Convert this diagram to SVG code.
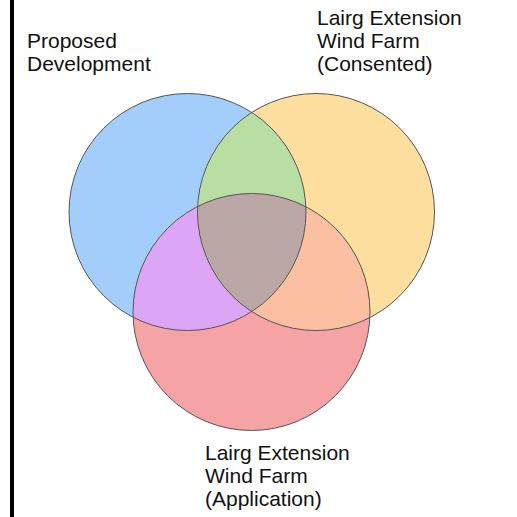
<svg xmlns="http://www.w3.org/2000/svg" width="517" height="517" viewBox="0 0 517 517">
<style>
.lbl{font-family:"Liberation Sans",Arial,sans-serif;font-size:21px;fill:#111}
.ring{fill:none;stroke:#555;stroke-width:1}
</style>
<defs>
<circle id="cB" cx="187.5" cy="212" r="118.5"/>
<circle id="cO" cx="316" cy="212" r="118.5"/>
<circle id="cR" cx="251.5" cy="312" r="118.5"/>
<clipPath id="clipB"><use href="#cB"/></clipPath>
<clipPath id="clipO"><use href="#cO"/></clipPath>
</defs>
<rect x="0" y="0" width="517" height="517" fill="#fff"/>
<rect x="10" y="0" width="4" height="517" fill="#000"/>
<g id="fills">
<use href="#cB" fill="#a3cdfb"/>
<use href="#cO" fill="#fedfa0"/>
<use href="#cR" fill="#f5a3a5"/>
<use href="#cO" fill="#b8dea3" clip-path="url(#clipB)"/>
<use href="#cR" fill="#dda5f5" clip-path="url(#clipB)"/>
<use href="#cR" fill="#fdbfa1" clip-path="url(#clipO)"/>
<g clip-path="url(#clipB)"><use href="#cR" fill="#bba8a6" clip-path="url(#clipO)"/></g>
</g>
<g id="node-proposed">
<use href="#cB" class="ring"/>
<text class="lbl" x="27" y="48">Proposed</text>
<text class="lbl" x="27" y="71">Development</text>
</g>
<g id="node-consented">
<use href="#cO" class="ring"/>
<text class="lbl" x="317" y="25">Lairg Extension</text>
<text class="lbl" x="317" y="48">Wind Farm</text>
<text class="lbl" x="317" y="71">(Consented)</text>
</g>
<g id="node-application">
<use href="#cR" class="ring"/>
<text class="lbl" x="205" y="460">Lairg Extension</text>
<text class="lbl" x="205" y="483">Wind Farm</text>
<text class="lbl" x="205" y="506">(Application)</text>
</g>
<g id="connectors"/>
</svg>
